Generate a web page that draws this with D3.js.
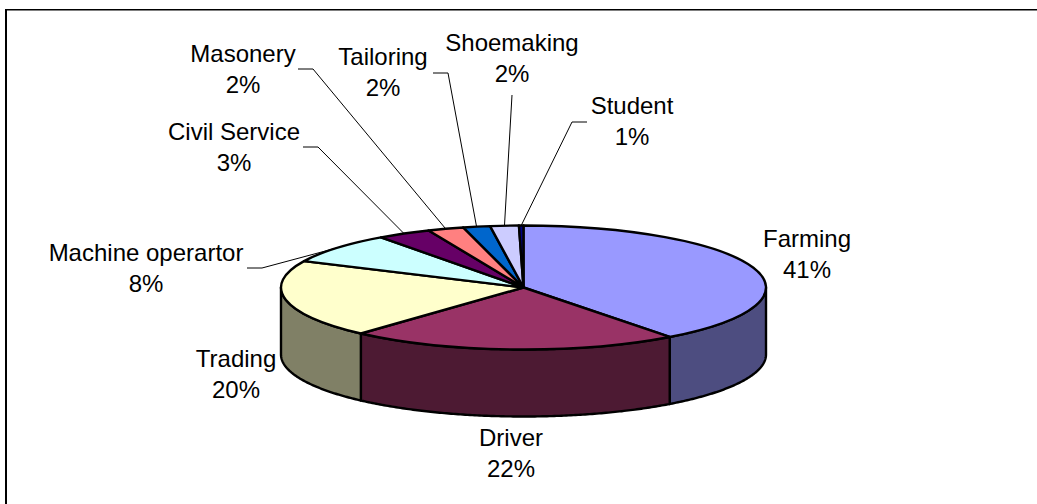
<!DOCTYPE html>
<html>
<head>
<meta charset="utf-8">
<script src="https://cdn.jsdelivr.net/npm/d3@7"></script>
<style>
  html, body { margin: 0; padding: 0; background: #fff; }
  svg { display: block; }
  text { font-family: "Liberation Sans", Arial, sans-serif; font-size: 24px; fill: #000; }
</style>
</head>
<body>
<svg id="chart" width="1037" height="504"></svg>
<script>
// slices clockwise from 12 o'clock
const categories = ['Farming', 'Driver', 'Trading', 'Machine operartor', 'Civil Service', 'Masonery', 'Tailoring', 'Shoemaking', 'Student'];
// share of the circle
const shares = [39.7, 22, 20.3, 8, 3.6, 2.4, 1.8, 1.9, 0.3];
// percentages printed on the labels
const percentLabels = ['41%', '22%', '20%', '8%', '3%', '2%', '2%', '2%', '1%'];
const topColors = ['#9999ff', '#993366', '#ffffcc', '#ccffff', '#660066', '#ff8080', '#0066cc', '#ccccff', '#000080'];
const sideColors = ['#4d4d80', '#4d1a33', '#808066'];

// label centre x, first baseline y
const labelPos = [[807, 247], [511, 446], [236, 367], [146, 261], [234, 140], [243, 62], [383, 65], [512, 51], [632, 114]];
// leader line start + elbow, null when the slice has none
const leaderPos = [null, null, null,
  [[247, 268], [262, 268]],
  [[303, 147], [318, 147]],
  [[298, 69], [313, 69]],
  [[433, 73], [448, 73]],
  [[512, 95]],
  [[587, 122], [572, 122]]];

const svg = d3.select('#chart');
const cx = 523.5, cy = 287.5, rx = 242.5, ry = 62, depth = 67;
const lineGap = 31;

const pieData = d3.pie().sort(null)(shares);

// point on the rim of the top ellipse, angle clockwise from 12 o'clock
const rimX = a => cx + rx * Math.sin(a);
const rimY = a => cy - ry * Math.cos(a);

// frame, only top and left edges are in the picture
svg.append('line').attr('x1', 5).attr('x2', 1037).attr('y1', 10.5).attr('y2', 10.5).attr('stroke', '#808080').attr('stroke-width', 1);
svg.append('line').attr('x1', 5).attr('x2', 1037).attr('y1', 9.5).attr('y2', 9.5).attr('stroke', '#000').attr('stroke-width', 1);
svg.append('line').attr('x1', 6).attr('x2', 6).attr('y1', 9).attr('y2', 504).attr('stroke', '#000').attr('stroke-width', 2);

// side walls, only the front half of the rim
const front = [Math.PI / 2, Math.PI * 3 / 2];
const wallLine = d3.line();
const walls = pieData.map((d, i) => {
  const a0 = Math.max(d.startAngle, front[0]), a1 = Math.min(d.endAngle, front[1]);
  if (a1 <= a0) return null;
  const angles = d3.range(a0, a1, 0.01).concat([a1]);
  const outer = angles.map(a => [rimX(a), rimY(a)]);
  const lower = angles.slice().reverse().map(a => [rimX(a), rimY(a) + depth]);
  return {i: i, path: wallLine(outer.concat(lower)) + 'Z'};
}).filter(d => d);

svg.append('g').selectAll('path')
  .data(walls)
  .join('path')
  .attr('d', d => d.path)
  .attr('fill', d => sideColors[d.i])
  .attr('stroke', '#000')
  .attr('stroke-width', 2.4)
  .attr('stroke-linejoin', 'round');

// top face: circle arcs squashed into the ellipse
const arc = d3.arc().innerRadius(0).outerRadius(rx);
svg.append('g')
  .attr('transform', `translate(${cx},${cy}) scale(1,${ry / rx})`)
  .selectAll('path')
  .data(pieData)
  .join('path')
  .attr('d', arc)
  .attr('fill', (d, i) => topColors[i])
  .attr('stroke', '#000')
  .attr('stroke-width', 2.4)
  .attr('stroke-linejoin', 'round')
  .attr('vector-effect', 'non-scaling-stroke');

// leader lines run from the label to the middle of the slice rim
const leaders = pieData.map((d, i) => {
  if (!leaderPos[i]) return null;
  const mid = (d.startAngle + d.endAngle) / 2;
  return leaderPos[i].concat([[rimX(mid), rimY(mid)]]);
}).filter(d => d);

svg.append('g').selectAll('path')
  .data(leaders)
  .join('path')
  .attr('d', wallLine)
  .attr('fill', 'none')
  .attr('stroke', '#000')
  .attr('stroke-width', 1);

const labels = svg.append('g').selectAll('text')
  .data(categories)
  .join('text')
  .attr('text-anchor', 'middle')
  .attr('transform', (d, i) => `translate(${labelPos[i][0]},${labelPos[i][1]})`);
labels.append('tspan').attr('x', 0).attr('y', 0).text(d => d);
labels.append('tspan').attr('x', 0).attr('y', lineGap).text((d, i) => percentLabels[i]);
</script>
</body>
</html>
